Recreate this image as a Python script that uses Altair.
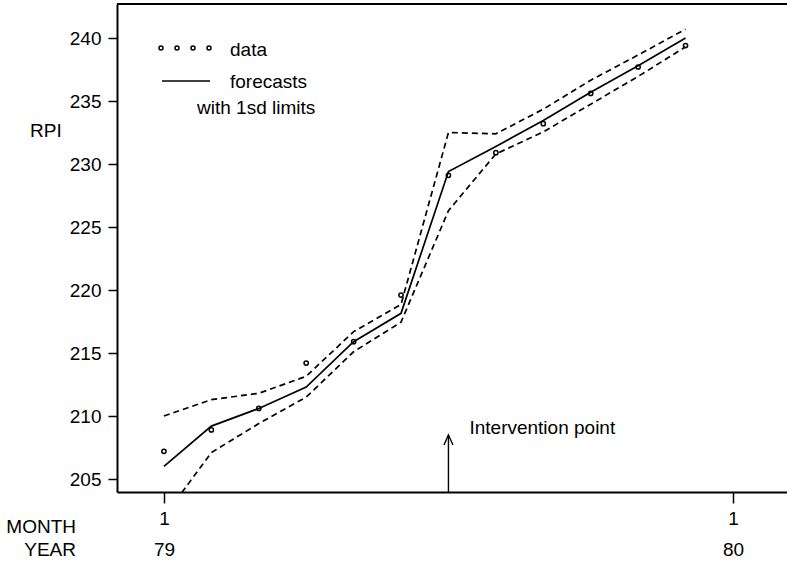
import altair as alt
import pandas as pd

# Monthly Retail Price Index, 1979 (month 1 .. 12)
month = [1, 2, 3, 4, 5, 6, 7, 8, 9, 10, 11, 12]
rpi = [207.2, 208.9, 210.6, 214.2, 215.9, 219.6, 229.1, 230.9, 233.2, 235.6, 237.7, 239.4]
forecast = [206.0, 209.2, 210.6, 212.3, 215.9, 218.15, 229.4, 231.4, 233.45, 235.7, 237.8, 240.0]
upper = [210.0, 211.3, 211.8, 213.15, 216.7, 218.85, 232.5, 232.4, 234.35, 236.65, 238.65, 240.7]
lower = [202.0, 207.1, 209.4, 211.5, 215.1, 217.45, 226.3, 230.8, 232.55, 234.75, 236.95, 239.3]

# x-axis ticks: months since January 1979
tick_pos = [0, 12]
tick_month = ["1", "1"]
tick_year = ["79", "80"]
y_ticks = [205, 210, 215, 220, 225, 230, 235, 240]

intervention_month = 7
arrow_top = 208.5

X_DOMAIN = [-0.99, 13.14]
Y_DOMAIN = [203.97, 242.7]
FONT = "Liberation Sans"
FS = 19

t = [m - 1 for m in month]
series = pd.DataFrame({"t": t, "rpi": rpi, "forecast": forecast})
bands = pd.DataFrame({
    "t": t + t,
    "value": upper + lower,
    "band": ["upper"] * len(t) + ["lower"] * len(t),
})
arrow = pd.DataFrame({"t": [intervention_month - 1], "lo": [Y_DOMAIN[0]], "hi": [arrow_top]})
single = pd.DataFrame({"k": [0]})

label_expr = "".join(
    f"datum.value == {p} ? ['{m}', '{y}'] : " for p, m, y in zip(tick_pos, tick_month, tick_year)
) + "''"

x_scale = alt.Scale(domain=X_DOMAIN, nice=False, zero=False)
y_scale = alt.Scale(domain=Y_DOMAIN, nice=False, zero=False)

x_axis = alt.Axis(values=tick_pos, labelExpr=label_expr, title=None, grid=False,
                  tickSize=11, tickWidth=1.5, domainWidth=2, domainColor="black",
                  tickColor="black", labelColor="black", labelFont=FONT, labelFontSize=FS,
                  labelLineHeight=31, labelPadding=6, labelFlush=False)
y_axis = alt.Axis(values=y_ticks, title=None, grid=False, tickSize=9, tickWidth=1.5,
                  domainWidth=2, domainColor="black", tickColor="black", labelColor="black",
                  labelFont=FONT, labelFontSize=FS, labelPadding=7)


def xenc(field="t"):
    return alt.X(f"{field}:Q", scale=x_scale, axis=x_axis)


def yenc(field):
    return alt.Y(f"{field}:Q", scale=y_scale, axis=y_axis)


band_lines = alt.Chart(bands).mark_line(
    color="black", strokeWidth=1.7, strokeDash=[6, 4], clip=True
).encode(x=xenc(), y=yenc("value"), detail="band:N")

forecast_line = alt.Chart(series).mark_line(
    color="black", strokeWidth=1.7, clip=True
).encode(x=xenc(), y=yenc("forecast"))

points = alt.Chart(series).mark_point(
    shape="circle", filled=False, size=18, strokeWidth=1.5, color="black", opacity=1
).encode(x=xenc(), y=yenc("rpi"))

arrow_shaft = alt.Chart(arrow).mark_rule(color="black", strokeWidth=1.4).encode(
    x=xenc(), y=yenc("lo"), y2="hi:Q"
)
arrow_head = alt.Chart(arrow).mark_point(
    shape="M-0.9,2L0,0L0.9,2", filled=False, size=100, strokeWidth=1.4, color="black", opacity=1
).encode(x=xenc(), y=yenc("hi"))
arrow_text = alt.Chart(arrow).mark_text(
    text="Intervention point", align="left", baseline="middle", dx=21, dy=-7,
    font=FONT, fontSize=FS, color="black"
).encode(x=xenc(), y=yenc("hi"))

# frame top edge
top_edge = alt.Chart(single).mark_rule(color="black", strokeWidth=2).encode(
    x=alt.value(0), x2=alt.value(670), y=alt.value(0)
)

# legend
legend_dots = alt.Chart(pd.DataFrame({"i": [0, 1, 2, 3]})).transform_calculate(
    px="44 + 16 * datum.i"
).mark_point(shape="circle", filled=False, size=16, strokeWidth=1.5, color="black", opacity=1).encode(
    x=alt.X("px:Q", scale=None, axis=None), y=alt.value(44)
)
legend_line = alt.Chart(single).mark_rule(color="black", strokeWidth=1.7).encode(
    x=alt.value(45), x2=alt.value(93), y=alt.value(77)
)


def label(text, x, y, align="left"):
    return alt.Chart(single).mark_text(
        text=text, align=align, baseline="middle", font=FONT, fontSize=FS, color="black"
    ).encode(x=alt.value(x), y=alt.value(y))


texts = [
    label("data", 113, 46),
    label("forecasts", 113, 78),
    label("with 1sd limits", 80, 104),
    label("RPI", -87, 127),
    label("MONTH", -41, 523, "right"),
    label("YEAR", -41, 546, "right"),
]

chart = alt.layer(
    band_lines, forecast_line, points, arrow_shaft, arrow_head, arrow_text,
    top_edge, legend_dots, legend_line, *texts
).properties(
    width=670, height=488,
    padding={"left": 117, "top": 4, "right": 0, "bottom": 71},
    autosize="none", background="white"
).configure_view(stroke=None)

chart.save("out.html", embed_options={"renderer": "svg", "actions": False})
